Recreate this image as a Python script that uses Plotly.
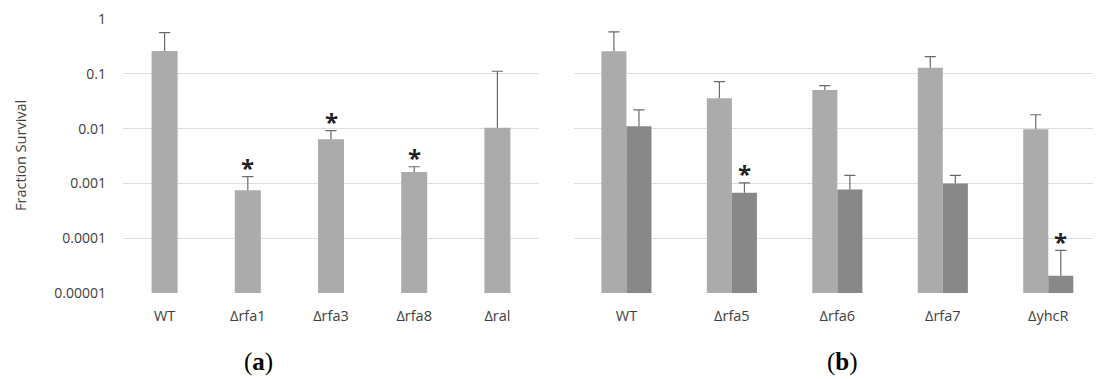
import numpy as np
import plotly.graph_objects as go

# ---- data ----
cats_a = ["WT", "Δrfa1", "Δrfa3", "Δrfa8", "Δral"]
vals_a = [0.263, 0.00075, 0.0064, 0.00162, 0.0104]
err_top_a = [0.57, 0.00133, 0.0092, 0.00202, 0.112]
star_a = [False, True, True, True, False]

cats_b = ["WT", "Δrfa5", "Δrfa6", "Δrfa7", "ΔyhcR"]
vals_b1 = [0.26, 0.036, 0.051, 0.13, 0.00975]
err_top_b1 = [0.586, 0.0723, 0.0611, 0.207, 0.018]
vals_b2 = [0.0111, 0.00068, 0.00078, 0.001, 0.0000206]
err_top_b2 = [0.022, 0.00103, 0.00141, 0.00141, 0.0000598]
star_b2 = [False, True, False, False, True]

ytick_vals = [0.00001, 0.0001, 0.001, 0.01, 0.1, 1]
ytick_text = ["0.00001", "0.0001", "0.001", "0.01", "0.1", "1"]

# page body adds an 8px margin; lay out in reference pixels minus that offset
OFF = 8
W, H = 1101 - OFF, 379 - OFF
def px(x):
    return (x - OFF) / W
def py(y):
    return 1 - (y - OFF) / H

LIGHT = "#ABABAB"
DARK = "#888888"
ERR = "#6A6A6A"
GRID = "#DEDEDE"
TXT = "#404040"
FONT = "Open Sans"
TICK_SIZE = 14

W_A = 0.3125
W_B = 0.2375

xa = list(range(len(cats_a)))
xb = list(range(len(cats_b)))

def err(vals, tops):
    return dict(type="data", symmetric=False,
                array=[t - v for v, t in zip(vals, tops)],
                arrayminus=[0] * len(vals),
                color=ERR, thickness=1.2, width=0)

def caps(xs, tops, xaxis, yaxis):
    return go.Scatter(x=xs, y=tops, mode="markers", xaxis=xaxis, yaxis=yaxis,
                      marker=dict(symbol="line-ew", size=8, line=dict(color=ERR, width=1.2)),
                      showlegend=False, hoverinfo="skip")

fig = go.Figure()
fig.add_trace(go.Bar(x=xa, y=vals_a, marker=dict(color=LIGHT, line=dict(width=0)),
                     width=W_A, error_y=err(vals_a, err_top_a),
                     xaxis="x", yaxis="y", showlegend=False))
fig.add_trace(caps(xa, err_top_a, "x", "y"))

fig.add_trace(go.Bar(x=xb, y=vals_b1, marker=dict(color=LIGHT, line=dict(width=0)),
                     width=W_B, offset=-W_B, error_y=err(vals_b1, err_top_b1),
                     xaxis="x2", yaxis="y2", showlegend=False))
fig.add_trace(caps([i - W_B / 2 for i in xb], err_top_b1, "x2", "y2"))
fig.add_trace(go.Bar(x=xb, y=vals_b2, marker=dict(color=DARK, line=dict(width=0)),
                     width=W_B, offset=0.0, error_y=err(vals_b2, err_top_b2),
                     xaxis="x2", yaxis="y2", showlegend=False))
fig.add_trace(caps([i + W_B / 2 for i in xb], err_top_b2, "x2", "y2"))

ydom = [py(293.0), py(19.2)]
x1dom = [px(123.0), px(539.0)]
x2dom = [px(573.7), 1.0]
x2max = 4.5

yax = dict(type="log", range=[-5, 0], domain=ydom, showgrid=True, gridcolor=GRID,
           gridwidth=1.3, zeroline=False, showline=False, ticks="",
           tickvals=ytick_vals, ticktext=ytick_text,
           tickfont=dict(family=FONT, size=TICK_SIZE, color=TXT), automargin=False)
xax = dict(showgrid=False, zeroline=False, showline=False, ticks="",
           tickfont=dict(family=FONT, size=14.5, color=TXT), automargin=False,
           ticklabelstandoff=12)

annotations = []
STAR_FONT = dict(family=FONT, size=24, color="#222222")
for i, (t, s) in enumerate(zip(err_top_a, star_a)):
    if s:
        annotations.append(dict(x=i, y=np.log10(t), xref="x", yref="y", text="<b>*</b>",
                                showarrow=False, yshift=9, xanchor="center", yanchor="middle",
                                font=STAR_FONT))
for i, (t, s) in enumerate(zip(err_top_b2, star_b2)):
    if s:
        annotations.append(dict(x=i + W_B / 2, y=np.log10(t), xref="x2", yref="y2",
                                text="<b>*</b>", showarrow=False, yshift=9,
                                xanchor="center", yanchor="middle", font=STAR_FONT))

annotations.append(dict(x=px(20.0), y=py(156.0), xref="paper", yref="paper",
                        text="Fraction Survival", textangle=-90, showarrow=False,
                        xanchor="center", yanchor="middle",
                        font=dict(family=FONT, size=14.5, color=TXT)))
annotations.append(dict(x=px(258.0), y=py(362.0), xref="paper", yref="paper",
                        text="(<b>a</b>)", showarrow=False, xanchor="center", yanchor="middle",
                        font=dict(family="Liberation Serif", size=25, color="#000000")))
annotations.append(dict(x=px(842.5), y=py(362.0), xref="paper", yref="paper",
                        text="(<b>b</b>)", showarrow=False, xanchor="center", yanchor="middle",
                        font=dict(family="Liberation Serif", size=25, color="#000000")))

fig.update_layout(
    width=W, height=H,
    margin=dict(l=0, r=0, t=0, b=0),
    paper_bgcolor="white", plot_bgcolor="white",
    barmode="overlay",
    xaxis=dict(xax, domain=x1dom, anchor="y", range=[-0.5, 4.5],
               tickmode="array", tickvals=xa, ticktext=cats_a),
    yaxis=dict(yax, anchor="x", ticklabelstandoff=16),
    xaxis2=dict(xax, domain=x2dom, anchor="y2", range=[-0.5, x2max],
                tickmode="array", tickvals=xb, ticktext=cats_b),
    yaxis2=dict(yax, anchor="x2", showticklabels=False),
    annotations=annotations,
)

fig.write_html("out.html")
